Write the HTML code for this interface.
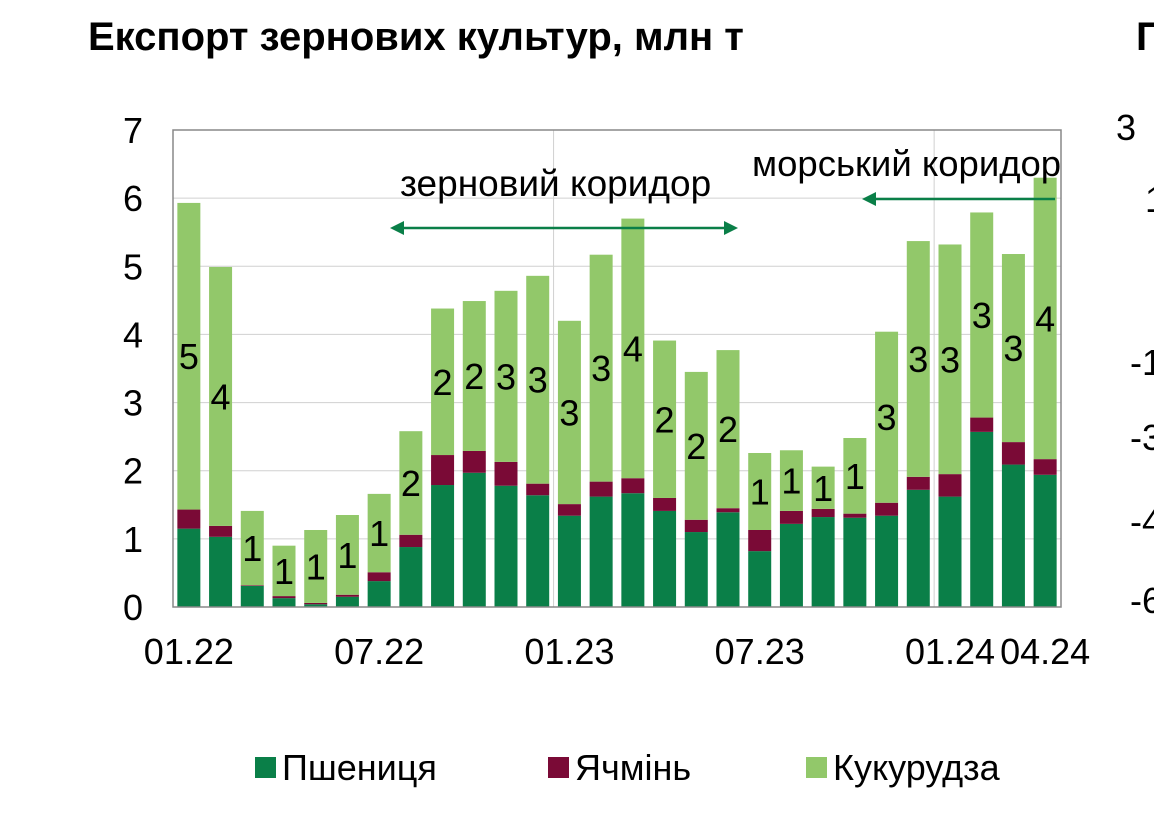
<!DOCTYPE html>
<html><head><meta charset="utf-8">
<style>
body{margin:0;background:#fff;width:1154px;height:816px;overflow:hidden;font-family:"Liberation Sans",sans-serif;}
</style></head>
<body>
<svg id="c" width="1154" height="816" xmlns="http://www.w3.org/2000/svg" font-family="Liberation Sans, sans-serif">
<text x="88" y="50" font-size="40" font-weight="bold" fill="#000">Експорт зернових культур, млн т</text>
<text x="1136" y="50" font-size="40" font-weight="bold" fill="#000">Г</text>
<g font-size="36" fill="#000">
<text x="1116" y="140">3</text><text x="1145" y="212">1</text><text x="1130" y="375">-1</text><text x="1130" y="450">-3</text><text x="1130" y="534">-4</text><text x="1130" y="613">-6</text>
</g>
<g id="grid"></g>
<g id="bars"></g>
<g id="labels" font-size="36" fill="#000"></g>
<rect x="173" y="130" width="888" height="477" fill="none" stroke="#888" stroke-width="1.5"/>
<g id="yticks" font-size="36" fill="#000" text-anchor="end"></g>
<g id="xticks" font-size="36" fill="#000" text-anchor="middle"></g>
<text x="400" y="196" font-size="37" fill="#000">зерновий коридор</text>
<g stroke="#0a7f48" stroke-width="2.5" fill="#0a7f48">
<line x1="398" y1="228" x2="730" y2="228"/>
<polygon points="390,228 404,221 404,235" stroke="none"/>
<polygon points="738,228 724,221 724,235" stroke="none"/>
</g>
<text x="752" y="176" font-size="36.5" fill="#000">морський коридор</text>
<g stroke="#0a7f48" stroke-width="2.5" fill="#0a7f48">
<line x1="870" y1="199" x2="1055" y2="199"/>
<polygon points="862,199 876,192 876,206" stroke="none"/>
</g>
<g font-size="36" fill="#000">
<rect x="255" y="757" width="21" height="21" fill="#0a7f48"/>
<text x="282" y="780">Пшениця</text>
<rect x="548" y="757" width="21" height="21" fill="#7a0a36"/>
<text x="575" y="780">Ячмінь</text>
<rect x="806" y="757" width="21" height="21" fill="#92c86a"/>
<text x="833" y="780">Кукурудза</text>
</g>
</svg>
<script>
const months=["01.22","02.22","03.22","04.22","05.22","06.22","07.22","08.22","09.22","10.22","11.22","12.22","01.23","02.23","03.23","04.23","05.23","06.23","07.23","08.23","09.23","10.23","11.23","12.23","01.24","02.24","03.24","04.24"];
const wheat=[1.15,1.03,0.31,0.13,0.04,0.15,0.38,0.88,1.79,1.97,1.78,1.64,1.34,1.62,1.67,1.41,1.10,1.39,0.82,1.22,1.32,1.31,1.34,1.72,1.62,2.57,2.09,1.94];
const barley=[0.28,0.16,0.01,0.03,0.02,0.03,0.13,0.18,0.44,0.32,0.35,0.17,0.17,0.22,0.22,0.19,0.18,0.06,0.31,0.19,0.12,0.06,0.19,0.19,0.33,0.21,0.33,0.23];
const corn=[4.50,3.80,1.09,0.74,1.07,1.17,1.15,1.52,2.15,2.20,2.51,3.05,2.69,3.33,3.81,2.31,2.17,2.32,1.13,0.89,0.62,1.11,2.51,3.46,3.37,3.01,2.76,4.13];
const xTickLabels=["01.22","07.22","01.23","07.23","01.24","04.24"];
const yTicks=[0,1,2,3,4,5,6,7];
const NS="http://www.w3.org/2000/svg";
const X0=173,W=888,Y0=607,PH=477,YMAX=7;
const slot=W/months.length,bw=23;
const y=v=>Y0-v/YMAX*PH;
const xc=i=>X0+slot*(i+0.5);
function mk(t,a,p){const e=document.createElementNS(NS,t);for(const k in a)e.setAttribute(k,a[k]);p.appendChild(e);return e;}
const grid=document.getElementById('grid'),bars=document.getElementById('bars'),labels=document.getElementById('labels');
yTicks.forEach(v=>{
 const l=mk('line',{x1:X0,x2:X0+W,y1:y(v),y2:y(v),stroke:'#d0d0d0','stroke-width':1},grid);
 
 
 const t=mk('text',{x:143,y:y(v)+13},document.getElementById('yticks'));t.textContent=v;
 
 
});
[12,24].forEach(i=>{
 const l=mk('line',{x1:X0+slot*i,x2:X0+slot*i,y1:130,y2:Y0,stroke:'#d0d0d0','stroke-width':1},grid);
 
 
});
months.forEach((m,i)=>{
 const cx=xc(i);
 const segs=[[0,wheat[i],'#0a7f48','wheat'],[wheat[i],wheat[i]+barley[i],'#7a0a36','barley'],[wheat[i]+barley[i],wheat[i]+barley[i]+corn[i],'#92c86a','corn']];
 segs.forEach(s=>{
  const r=mk('rect',{x:cx-bw/2,y:y(s[1]),width:bw,height:y(s[0])-y(s[1]),fill:s[2]},bars);
  
  
 });
 const mid=wheat[i]+barley[i]+corn[i]/2;
 const t=mk('text',{x:cx,y:y(mid)+13,'text-anchor':'middle'},labels);
 t.textContent=Math.round(corn[i]);
 
 
 if(xTickLabels.includes(m)){
  const xt=mk('text',{x:cx,y:664},document.getElementById('xticks'));xt.textContent=m;
  
  
 }
});
</script>
</body></html>
